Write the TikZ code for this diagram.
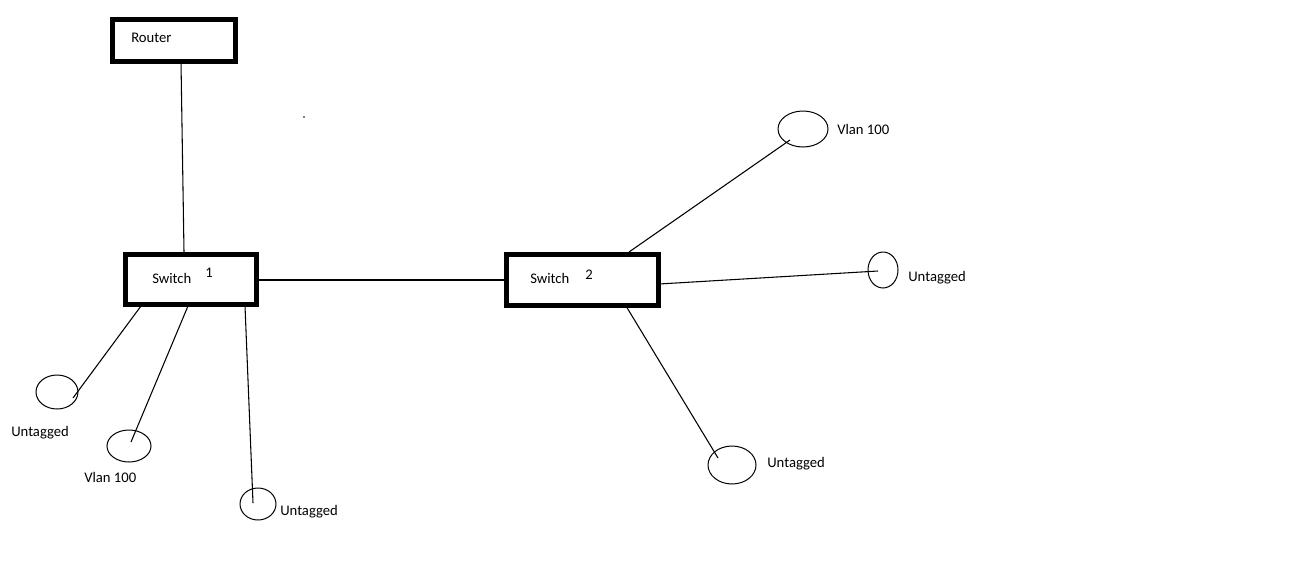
\documentclass[tikz,border=0pt]{standalone}
\usepackage{fontspec}
\setmainfont{Carlito}
\usetikzlibrary{shapes.geometric}
\begin{document}
\begin{tikzpicture}[x=0.75pt,y=-0.75pt,
  box/.style={draw,line width=3.75pt,inner sep=0pt},
  port/.style={draw,ellipse,line width=0.75pt,inner sep=0pt},
  lbl/.style={anchor=west,inner sep=0pt,font=\fontsize{11}{13}\selectfont},
  wire/.style={line width=0.8pt}]
\useasboundingbox (0,0) rectangle (1308,575);
% boxes
\node[box,minimum width=92.25pt,minimum height=31.5pt] (router) at (174,40.5) {};
\node[box,minimum width=98.25pt,minimum height=37.5pt] (sw1) at (191,279.5) {};
\node[box,minimum width=114pt,minimum height=38.25pt] (sw2) at (582.5,280) {};
\node[lbl] (trouter) at (131,38) {Router};
\node[lbl] (tsw1) at (152,278) {Switch};
\node[lbl] (tsw1n) at (205,273) {1};
\node[lbl] (tsw2) at (530,278) {Switch};
\node[lbl] (tsw2n) at (585,275) {2};
% ports
\node[port,minimum width=31.5pt,minimum height=25.5pt] (p1) at (57,392) {};
\node[port,minimum width=33pt,minimum height=24pt] (p2) at (129,446) {};
\node[port,minimum width=27pt,minimum height=24pt] (p3) at (258,504) {};
\node[port,minimum width=37.5pt,minimum height=27pt] (p4) at (803,129) {};
\node[port,minimum width=22.5pt,minimum height=27pt] (p5) at (883,270) {};
\node[port,minimum width=36pt,minimum height=28.5pt] (p6) at (732,465) {};
\node[lbl] (l1) at (11,433) {Untagged};
\node[lbl] (l2) at (84,477) {Vlan 100};
\node[lbl] (l3) at (280,512) {Untagged};
\node[lbl] (l4) at (837,129) {Vlan 100};
\node[lbl] (l5) at (908,278) {Untagged};
\node[lbl] (l6) at (767,464) {Untagged};
% connector end points
\coordinate (r1) at (181,62);
\coordinate (s1t) at (184,252);
\coordinate (s1a) at (141,306);
\coordinate (s1b) at (188,306);
\coordinate (s1c) at (245,306);
\coordinate (s2t) at (629,252);
\coordinate (s2r) at (659,284);
\coordinate (s2b) at (626,306);
\coordinate (p1in) at (73,398);
\coordinate (p2in) at (131,442);
\coordinate (p3in) at (253,503);
\coordinate (p4in) at (790,140);
\coordinate (p5in) at (878,271);
\coordinate (p6in) at (718,458);
% wires
\draw[wire] (r1) -- (s1t);
\draw[wire] (sw1.east |- 0,280) -- (sw2.west |- 0,280);
\draw[wire] (s1a) -- (p1in);
\draw[wire] (s1b) -- (p2in);
\draw[wire] (s1c) -- (p3in);
\draw[wire] (s2t) -- (p4in);
\draw[wire] (s2r) -- (p5in);
\draw[wire] (s2b) -- (p6in);
% stray dot
\fill (304,117) circle (0.6pt);
\end{tikzpicture}
\end{document}
